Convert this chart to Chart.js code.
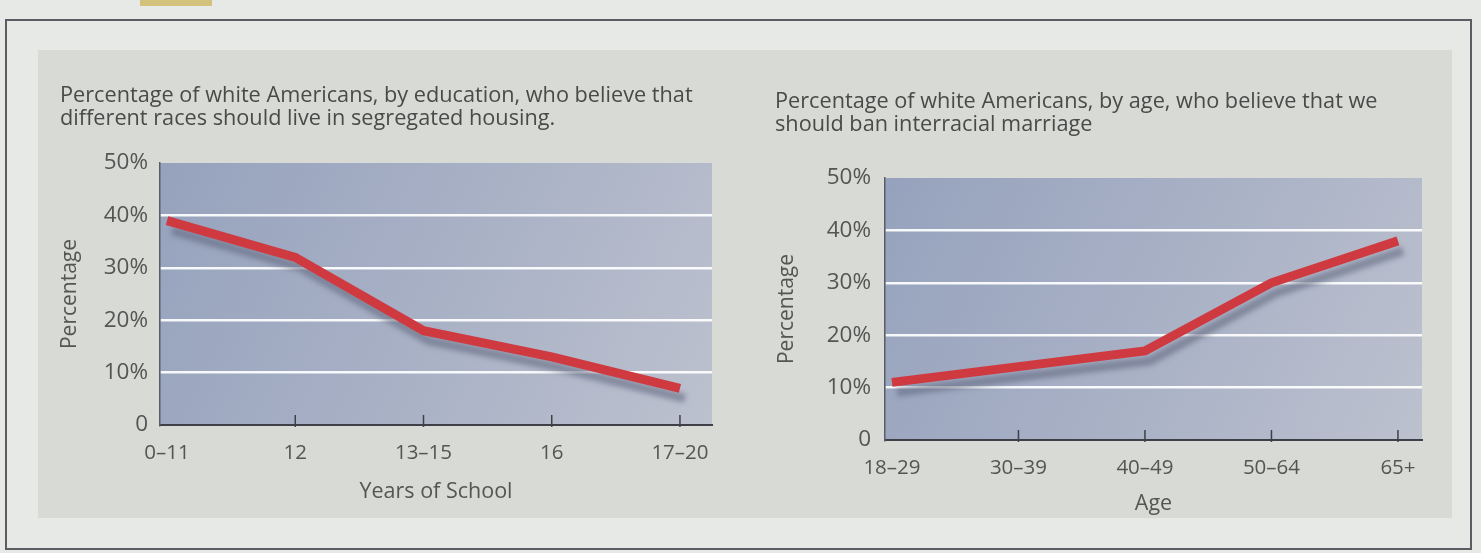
<!DOCTYPE html>
<html>
<head>
<meta charset="utf-8">
<script src="https://cdn.jsdelivr.net/npm/chart.js@4/dist/chart.umd.min.js"></script>
<style>
  html, body { margin: 0; padding: 0; }
  body { width: 1481px; height: 553px; background: #e7e9e6; position: relative; overflow: hidden; }
  #tab { position: absolute; left: 140px; top: 0; width: 72px; height: 6px; background: #d3c27c; }
  #frame { position: absolute; left: 5px; top: 19px; width: 1467px; height: 531px;
           border: 2px solid #5b5d62; box-sizing: border-box; }
  #panel { position: absolute; left: 38px; top: 50px; width: 1414px; height: 468px; background: #d8dad5; }
  .box { position: absolute; top: 50px; height: 470px; }
  #boxEdu { left: 38px; width: 710px; }
  #boxAge { left: 750px; width: 700px; }
</style>
</head>
<body>
<div id="tab"></div>
<div id="frame"></div>
<div id="panel"></div>
<div class="box" id="boxEdu"><canvas id="eduChart"></canvas></div>
<div class="box" id="boxAge"><canvas id="ageChart"></canvas></div>
<script>
// segregated housing, by years of school
const eduLabels = ['0–11', '12', '13–15', '16', '17–20'];
const eduValues = [39, 32, 18, 13, 7];
// ban on interracial marriage, by age
const ageLabels = ['18–29', '30–39', '40–49', '50–64', '65+'];
const ageValues = [11, 14, 17, 30, 38];
const yTickValues = [0, 10, 20, 30, 40, 50];

const FONT = "'Open Sans', 'Noto Sans', sans-serif";
Chart.defaults.font.family = FONT;
Chart.defaults.color = '#555';

// blue-grey plot background
const plotBg = {
    id: 'plotBg',
    beforeDraw(chart) {
        const { ctx, chartArea: a } = chart;
        const g = ctx.createLinearGradient(a.left, a.top, a.right, a.bottom);
        g.addColorStop(0, '#96a2bd');
        g.addColorStop(0.55, '#aab2c6');
        g.addColorStop(1, '#bcc1ce');
        ctx.save();
        ctx.fillStyle = g;
        ctx.fillRect(a.left, a.top, a.right - a.left, a.bottom - a.top);
        ctx.restore();
    }
};

// soft grey shadow under the red line
const lineShadow = {
    id: 'lineShadow',
    beforeDatasetDraw(chart) {
        const ctx = chart.ctx;
        ctx.save();
        ctx.shadowColor = 'rgba(100, 106, 130, 0.6)';
        ctx.shadowOffsetX = 5;
        ctx.shadowOffsetY = 10;
        ctx.shadowBlur = 5;
    },
    afterDatasetDraw(chart) {
        chart.ctx.restore();
    }
};

// short tick marks standing up from the x axis
const upTicks = {
    id: 'upTicks',
    afterDraw(chart) {
        const { ctx, scales: { x }, chartArea: a } = chart;
        ctx.save();
        ctx.strokeStyle = '#3e4048';
        ctx.lineWidth = 1.5;
        x.ticks.forEach(t => {
            if (t.value === 0) return;
            const px = x.getPixelForValue(t.value);
            ctx.beginPath();
            ctx.moveTo(px, a.bottom - 10);
            ctx.lineTo(px, a.bottom + 2);
            ctx.stroke();
        });
        ctx.restore();
    }
};

function makeChart(id, cfg) {
    const data = cfg.values.map((v, i) => ({ x: i, y: v }));
    return new Chart(document.getElementById(id), {
        type: 'line',
        data: {
            datasets: [{
                data: data,
                borderColor: '#cf3a41',
                borderWidth: 9,
                borderCapStyle: 'butt',
                borderJoinStyle: 'miter',
                pointRadius: 0,
                tension: 0
            }]
        },
        options: {
            responsive: true,
            maintainAspectRatio: false,
            animation: false,
            events: [],
            layout: { padding: { left: cfg.padLeft, right: cfg.padRight, top: 0, bottom: cfg.padBottom } },
            plugins: {
                legend: { display: false },
                tooltip: { enabled: false },
                title: {
                    display: true,
                    text: cfg.title,
                    align: 'start',
                    color: '#4a4a4a',
                    font: { size: 21.7, weight: 'normal', lineHeight: 1.06 },
                    padding: { top: cfg.titleTop, bottom: cfg.titleBottom }
                }
            },
            scales: {
                x: {
                    type: 'linear',
                    min: cfg.xMin,
                    max: cfg.xMax,
                    afterBuildTicks: s => { s.ticks = cfg.labels.map((_, i) => ({ value: i })); },
                    afterFit: s => { s.height = cfg.xHeight; },
                    grid: { display: false },
                    border: { display: true, color: '#3e4048', width: 2 },
                    ticks: {
                        padding: cfg.xTickPad,
                        color: '#555',
                        font: { size: 20.5 },
                        maxRotation: 0,
                        autoSkip: false,
                        callback: v => cfg.labels[v]
                    },
                    title: {
                        display: true,
                        text: cfg.xTitle,
                        color: '#555',
                        font: { size: 21.5 },
                        padding: { top: 0, bottom: 0 }
                    }
                },
                y: {
                    min: 0,
                    max: 50,
                    afterBuildTicks: s => { s.ticks = yTickValues.map(v => ({ value: v })); },
                    afterFit: s => { s.width = cfg.yWidth; },
                    grid: {
                        drawTicks: false,
                        lineWidth: 2.5,
                        color: c => (c.tick.value > 0 && c.tick.value < 50) ? 'rgba(255,255,255,0.92)' : 'rgba(0,0,0,0)'
                    },
                    border: { display: true, color: '#5a5c66', width: 1.5 },
                    ticks: {
                        padding: cfg.yTickPad,
                        color: '#555',
                        font: { size: 22.5 },
                        callback: v => v === 0 ? '0' : v + '%'
                    },
                    title: {
                        display: true,
                        text: 'Percentage',
                        color: '#555',
                        font: { size: 21, lineHeight: 1 },
                        padding: { top: cfg.yTitlePad, bottom: 0 }
                    }
                }
            }
        },
        plugins: [plotBg, lineShadow, upTicks]
    });
}

makeChart('eduChart', {
    labels: eduLabels,
    values: eduValues,
    title: ['Percentage of white Americans, by education, who believe that',
            'different races should live in segregated housing.'],
    xTitle: 'Years of School',
    xMin: -0.055, xMax: 4.25,
    padLeft: 22, padRight: 36, padBottom: 15,
    titleTop: 34, titleBottom: 33,
    xHeight: 80, xTickPad: 8,
    yWidth: 100, yTickPad: 12, yTitlePad: 0
});

makeChart('ageChart', {
    labels: ageLabels,
    values: ageValues,
    title: ['Percentage of white Americans, by age, who believe that we',
            'should ban interracial marriage'],
    xTitle: 'Age',
    xMin: -0.055, xMax: 4.19,
    padLeft: 25, padRight: 28, padBottom: 3,
    titleTop: 40, titleBottom: 42,
    xHeight: 77, xTickPad: 8,
    yWidth: 110, yTickPad: 14, yTitlePad: 2
});
</script>
</body>
</html>
